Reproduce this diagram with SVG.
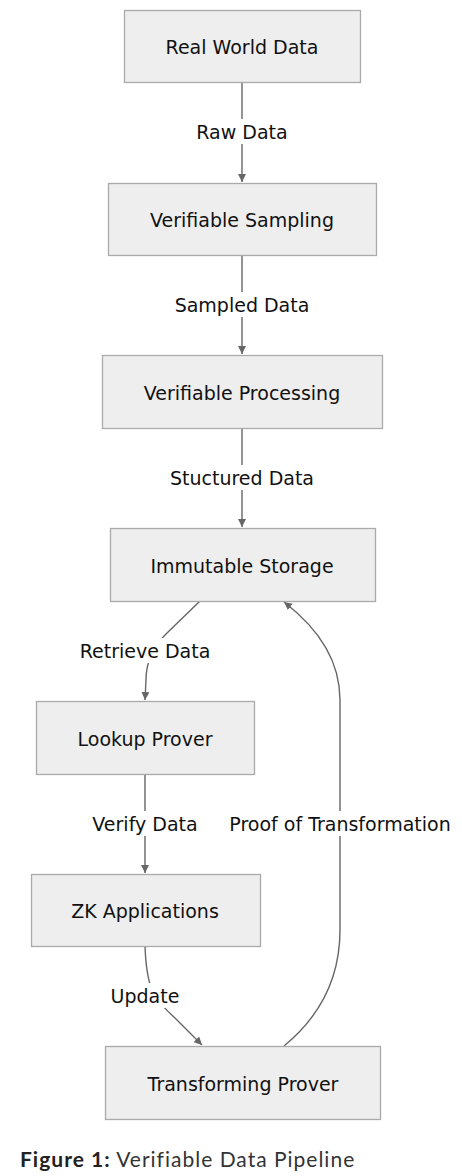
<svg xmlns="http://www.w3.org/2000/svg" width="462" height="1176" viewBox="0 0 462 1176">
<style>
.node rect{fill:#eeeeee;stroke:#aaaaaa;stroke-width:1.3}
.node text{font-family:"DejaVu Sans",sans-serif;font-size:19px;fill:#111;text-anchor:middle;dominant-baseline:central}
.edge{fill:none;stroke:#666;stroke-width:1.4}
.lbl rect{fill:#ffffff}
.lbl text{font-family:"DejaVu Sans",sans-serif;font-size:19px;fill:#111;text-anchor:middle;dominant-baseline:central}
.cap{font-family:Lato,"Open Sans",sans-serif;font-size:21px;fill:#333;letter-spacing:1px}
</style>
<defs>
<marker id="arr" viewBox="0 0 10 10" refX="10" refY="5" markerWidth="8" markerHeight="8" markerUnits="userSpaceOnUse" orient="auto">
<path d="M0,0 L10,5 L0,10 z" fill="#666"/>
</marker>
</defs>
<rect width="462" height="1176" fill="#fff"/>
<g id="connectors">
<path class="edge" d="M242,82 L242,182" marker-end="url(#arr)"/>
<path class="edge" d="M242,255 L242,354" marker-end="url(#arr)"/>
<path class="edge" d="M242,428 L242,527" marker-end="url(#arr)"/>
<path class="edge" d="M200,601 L166,634 Q146,654 146,680 L145,700" marker-end="url(#arr)"/>
<path class="edge" d="M145,774 L145,873" marker-end="url(#arr)"/>
<path class="edge" d="M145,946 Q146,975 152,990 Q160,1005 175,1018 L202,1045" marker-end="url(#arr)"/>
<path class="edge" d="M284,1046 Q340,1000 340,930 L340,700 Q340,645 284,602" marker-end="url(#arr)"/>
<g class="lbl">
<rect x="190" y="119" width="104" height="25"/><text x="242" y="132">Raw Data</text>
<rect x="167" y="292" width="150" height="25"/><text x="242" y="305">Sampled Data</text>
<rect x="161" y="465" width="162" height="25"/><text x="242" y="478">Stuctured Data</text>
<rect x="71" y="638" width="148" height="25"/><text x="145" y="651">Retrieve Data</text>
<rect x="83" y="811" width="124" height="25"/><text x="145" y="824">Verify Data</text>
<rect x="222" y="811" width="236" height="25"/><text x="340" y="824">Proof of Transformation</text>
<rect x="102" y="983" width="86" height="25"/><text x="145" y="996">Update</text>
</g>
</g>
<g id="n1" class="node"><rect x="124.5" y="10.5" width="236" height="72"/><text x="242" y="47">Real World Data</text></g>
<g id="n2" class="node"><rect x="108.5" y="183.5" width="268" height="72"/><text x="242" y="220">Verifiable Sampling</text></g>
<g id="n3" class="node"><rect x="102.5" y="355.5" width="280" height="73"/><text x="242" y="393">Verifiable Processing</text></g>
<g id="n4" class="node"><rect x="110.5" y="528.5" width="265" height="73"/><text x="242" y="566">Immutable Storage</text></g>
<g id="n5" class="node"><rect x="36.5" y="701.5" width="218" height="73"/><text x="145" y="739">Lookup Prover</text></g>
<g id="n6" class="node"><rect x="31.5" y="874.5" width="229" height="72"/><text x="145" y="911">ZK Applications</text></g>
<g id="n7" class="node"><rect x="105.5" y="1046.5" width="275" height="73"/><text x="243" y="1084">Transforming Prover</text></g>
<text class="cap" x="20" y="1167"><tspan font-weight="bold" fill="#222">Figure 1:</tspan> Verifiable Data Pipeline</text>
</svg>
